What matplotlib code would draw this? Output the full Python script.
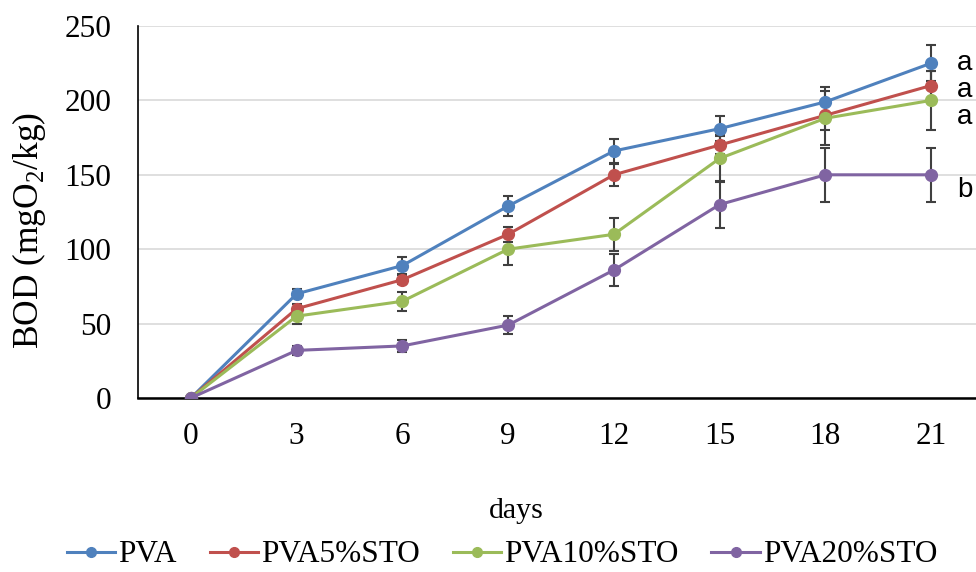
import matplotlib
matplotlib.use("Agg")
import matplotlib.pyplot as plt
from matplotlib.lines import Line2D

days = [0, 3, 6, 9, 12, 15, 18, 21]
series_names = ["PVA", "PVA5%STO", "PVA10%STO", "PVA20%STO"]
pva = [0, 70, 89, 129, 166, 181, 199, 225]
pva5 = [0, 60, 79.5, 110, 150, 170, 190, 210]
pva10 = [0, 55, 65, 100, 110, 161, 188, 200]
pva20 = [0, 32, 35, 49, 86, 130, 150, 150]
err_pva = [0, 3, 5.5, 6.5, 8, 8.5, 10, 12]
err_pva5 = [0, 3, 3, 5, 7.5, 6, 10, 9.5]
err_pva10 = [0, 5, 6.5, 10.5, 11, 16, 18, 20]
err_pva20 = [0, 3, 4, 6, 10.5, 15.5, 18, 18]
letters = ["a", "a", "a", "b"]
letter_y = [225, 207, 189, 140]
colors = ["#4F81BD", "#C0504D", "#9BBB59", "#8064A2"]

plt.rcParams["font.family"] = ["Liberation Serif", "DejaVu Serif"]
plt.rcParams["mathtext.fontset"] = "custom"
plt.rcParams["mathtext.rm"] = "Liberation Serif"

fig = plt.figure(figsize=(9.76, 5.72), dpi=100)
ax = fig.add_axes([138 / 976, 174 / 572, (984 - 138) / 976, (398 - 26) / 572])

vals = [pva, pva5, pva10, pva20]
errs = [err_pva, err_pva5, err_pva10, err_pva20]
handles = []
for name, v, e, c in zip(series_names, vals, errs, colors):
    ax.errorbar(days, v, yerr=e, color=c, marker="o", markersize=8.5, lw=2.2,
                ecolor="#404040", elinewidth=1.5, capsize=3.8, capthick=1.5,
                zorder=3)
    handles.append(Line2D([], [], color=c, marker="o", markersize=7, lw=2.2, label=name))

for lt, ly in zip(letters, letter_y):
    ax.text(21.95, ly, lt, fontsize=20, family=["Liberation Sans", "DejaVu Sans"],
            ha="center", va="center", clip_on=False)

ax.set_xlim(-1.5, 22.5)
ax.set_ylim(0, 250)
ax.set_xticks(days)
ax.set_xticklabels([str(d) for d in days])
ax.set_yticks([0, 50, 100, 150, 200, 250])
ax.grid(axis="y", color="#D9D9D9", lw=1.2)
ax.set_axisbelow(True)
for s in ["top", "right"]:
    ax.spines[s].set_visible(False)
ax.spines["left"].set_linewidth(1.2)
ax.spines["bottom"].set_linewidth(1.8)
ax.tick_params(axis="both", length=0, labelsize=22.5)
ax.tick_params(axis="y", pad=19)
ax.tick_params(axis="x", pad=17)
ax.set_xlabel("days", fontsize=21.5)
ax.xaxis.set_label_coords(0.4475, -0.268)
ax.set_ylabel(r"BOD (mgO$_\mathrm{2}$/kg)", fontsize=25.5)
ax.yaxis.set_label_coords(-0.106, 0.45)

fig.legend(handles=handles, loc="center", bbox_to_anchor=(502 / 976, 1 - 555 / 572), ncol=4,
           frameon=False, fontsize=22.5, handlelength=1.55, columnspacing=1.05,
           handletextpad=0.1, borderpad=0, borderaxespad=0)

fig.savefig("out.png", dpi=100)
